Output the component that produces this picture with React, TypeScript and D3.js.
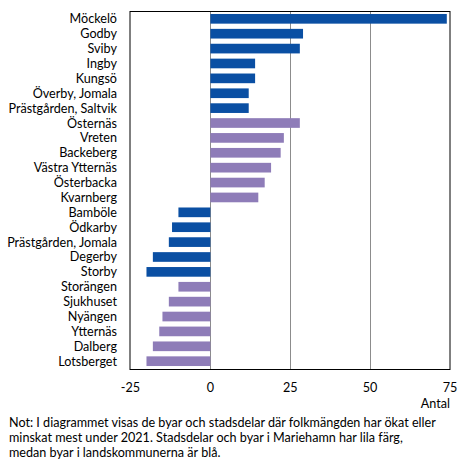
import React from "react";
import * as d3 from "d3";

const categories = [
  "Möckelö", "Godby", "Sviby", "Ingby", "Kungsö", "Överby, Jomala", "Prästgården, Saltvik",
  "Östernäs", "Vreten", "Backeberg", "Västra Ytternäs", "Österbacka", "Kvarnberg",
  "Bamböle", "Ödkarby", "Prästgården, Jomala", "Degerby", "Storby",
  "Storängen", "Sjukhuset", "Nyängen", "Ytternäs", "Dalberg", "Lotsberget",
];
const values = [74, 29, 28, 14, 14, 12, 12, 28, 23, 22, 19, 17, 15, -10, -12, -13, -18, -20, -10, -13, -15, -16, -18, -20];
// "land" = landskommun (blue), "stad" = Mariehamn (purple)
const groups = [
  "land", "land", "land", "land", "land", "land", "land",
  "stad", "stad", "stad", "stad", "stad", "stad",
  "land", "land", "land", "land", "land",
  "stad", "stad", "stad", "stad", "stad", "stad",
];
const ticks = [-25, 0, 25, 50, 75];
const axisTitle = "Antal";
const noteLines = [
  "Not: I diagrammet visas de byar och stadsdelar där folkmängden har ökat eller",
  "minskat mest under 2021. Stadsdelar och byar i Mariehamn har lila färg,",
  "medan byar i landskommunerna är blå.",
];

const W = 466, H = 467;
const plot = { left: 130.5, right: 450, top: 11, bottom: 369 };
const colors: Record<string, string> = { land: "#0A4FA3", stad: "#8E7CB8" };
const font = "Lato, 'Liberation Sans', sans-serif";
const fs = 12.6;

export default function App() {
  const x = d3.scaleLinear().domain([-25, 75]).range([plot.left, plot.right]);
  const y = d3.scaleBand().domain(categories).range([plot.top, plot.bottom]).paddingInner(0.35).paddingOuter(0.2);
  return (
    <svg width={W} height={H} style={{ position: "absolute", left: 0, top: 0, background: "#fff" }} fontFamily={font}>
      <rect x={0} y={0} width={W} height={H} fill="#fff" />
      {ticks.filter((t) => t > -25 && t < 75).map((t) => (
        <line key={t} x1={Math.round(x(t)) + 0.5} x2={Math.round(x(t)) + 0.5} y1={plot.top} y2={plot.bottom} stroke="#8c8c8c" strokeWidth={1} />
      ))}
      {categories.map((c, i) => {
        const v = values[i];
        const x0 = x(Math.min(0, v));
        const x1 = x(Math.max(0, v));
        return <rect key={c} x={x0} y={y(c)} width={x1 - x0} height={y.bandwidth()} fill={colors[groups[i]]} />;
      })}
      <rect x={plot.left - 0.5} y={plot.top + 0.5} width={plot.right - plot.left + 0.5} height={plot.bottom - plot.top} fill="none" stroke="#000" strokeWidth={1} />
      {categories.map((c) => (
        <text key={c} x={117} y={(y(c) ?? 0) + y.bandwidth() / 2} textAnchor="end" dominantBaseline="central" fontSize={fs} fill="#000">
          {c}
        </text>
      ))}
      {ticks.map((t) => (
        <text key={t} x={x(t)} y={387} textAnchor="middle" dominantBaseline="central" fontSize={fs} fill="#000">
          {t}
        </text>
      ))}
      <text x={450} y={403.5} textAnchor="end" dominantBaseline="central" fontSize={fs} fill="#000">{axisTitle}</text>
      {noteLines.map((l, i) => (
        <text key={i} x={9} y={422 + i * 15} dominantBaseline="central" fontSize={fs} fill="#000">{l}</text>
      ))}
    </svg>
  );
}
